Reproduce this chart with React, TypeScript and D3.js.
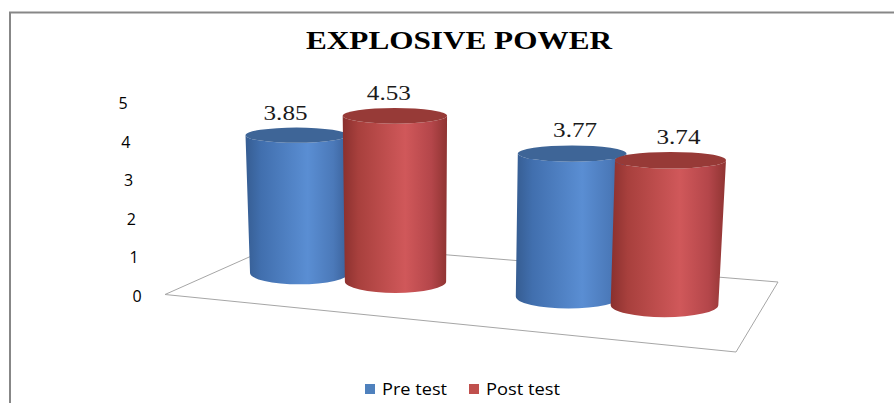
import * as d3 from 'd3'

const categories = ['1', '2']
const seriesNames = ['Pre test', 'Post test']
const preTest = [3.85, 3.77]
const postTest = [4.53, 3.74]
const yTicks = [0, 1, 2, 3, 4, 5]

const width = 894
const height = 403

const seriesColors = {
  'Pre test': { legend: '#4f81bd', top: '#3e6597', stops: ['#365d92', '#416fae', '#5a8ed3', '#4b79b9', '#395f98'] },
  'Post test': { legend: '#c0504d', top: '#973a37', stops: ['#8a302e', '#a8403d', '#d0585a', '#b4464a', '#8f3432'] },
}

// floor outline of the 3D plot area
const floor: [number, number][] = [
  [165, 294.5],
  [284, 241.5],
  [778, 282],
  [736, 352],
]

export default function App() {
  const rows = categories.flatMap((c, i) => [
    { cat: c, series: 'Pre test', value: preTest[i] },
    { cat: c, series: 'Post test', value: postTest[i] },
  ])

  const xGroup = d3.scaleBand(categories, [213, 751])
  const xSeries = d3.scaleBand(seriesNames, [-96, 96])

  // perspective helpers, keyed on the bottom centre x of each cylinder
  const baseY = d3.scaleLinear([299, 665], [273, 305])
  const unitPx = d3.scaleLinear([299, 665], [35.8, 38.7])
  const rxScale = d3.scaleLinear([299, 665], [51, 55.5])
  const lean = d3.scaleLinear([299, 665], [-3, 6])
  const labelShift = d3.scaleLinear([299, 665], [-11, 8])

  // value axis drawn with perspective drift to the left as it rises
  const yAxis = d3.scaleLinear([0, 5], [296, 103.5])
  const yAxisX = d3.scaleLinear([0, 5], [137, 123])

  return (
    <svg
      width={width}
      height={height}
      viewBox={`0 0 ${width} ${height}`}
      style={{ position: 'fixed', left: 0, top: 0, background: '#fff' }}
    >
      <defs>
        {seriesNames.map((s, i) => (
          <linearGradient key={s} id={`grad${i}`} x1="0" x2="1" y1="0" y2="0">
            {seriesColors[s].stops.map((c, j) => (
              <stop key={j} offset={[0, 0.15, 0.6, 0.85, 1][j]} stopColor={c} />
            ))}
          </linearGradient>
        ))}
      </defs>

      <rect x={10} y={12.5} width={900} height={400} fill="#fff" stroke="#878787" strokeWidth={2} />

      <text
        x={459}
        y={49}
        textAnchor="middle"
        fontFamily="'Liberation Serif', serif"
        fontWeight="bold"
        fontSize={25}
        textLength={306}
        lengthAdjust="spacingAndGlyphs"
        fill="#000"
      >
        EXPLOSIVE POWER
      </text>

      {yTicks.map(t => (
        <text
          key={t}
          x={yAxisX(t)}
          y={yAxis(t)}
          dy="0.35em"
          textAnchor="middle"
          fontFamily="'Open Sans', sans-serif"
          fontSize={16}
          fill="#000"
        >
          {t}
        </text>
      ))}

      <path d={d3.line()(floor) + 'Z'} fill="#fff" stroke="#a6a6a6" strokeWidth={1} />

      {rows.map(r => {
        const si = seriesNames.indexOf(r.series)
        const bx = (xGroup(r.cat) ?? 0) + xGroup.bandwidth() / 2 + (xSeries(r.series) ?? 0) + xSeries.bandwidth() / 2
        const by = baseY(bx)
        const rx = rxScale(bx)
        const brx = rx * 0.97
        const tx = bx + lean(bx)
        const ty = by - r.value * unitPx(bx)
        const ryT = rx * 0.15
        const ryB = rx * 0.22
        const side = [
          `M${tx - rx},${ty}`,
          `L${bx - brx},${by}`,
          `A${brx},${ryB} 0 0 0 ${bx + brx},${by}`,
          `L${tx + rx},${ty}`,
          `A${rx},${ryT} 0 0 1 ${tx - rx},${ty}`,
          'Z',
        ].join(' ')
        return (
          <g key={r.cat + r.series}>
            <path d={side} fill={`url(#grad${si})`} />
            <ellipse cx={tx} cy={ty} rx={rx} ry={ryT} fill={seriesColors[r.series].top} />
            <text
              x={tx + labelShift(bx)}
              y={ty - ryT - 8}
              textAnchor="middle"
              fontFamily="'Liberation Serif', serif"
              fontSize={20}
              textLength={44}
              lengthAdjust="spacingAndGlyphs"
              fill="#1a1a1a"
            >
              {r.value.toFixed(2)}
            </text>
          </g>
        )
      })}

      {seriesNames.map((s, i) => {
        const lx = [365, 469][i]
        return (
          <g key={s}>
            <rect x={lx} y={384} width={10} height={10} fill={seriesColors[s].legend} />
            <text
              x={lx + 17}
              y={394.5}
              fontFamily="'Open Sans', sans-serif"
              fontSize={16}
              textLength={[65, 74][i]}
              lengthAdjust="spacingAndGlyphs"
              fill="#000"
            >
              {s}
            </text>
          </g>
        )
      })}
    </svg>
  )
}
